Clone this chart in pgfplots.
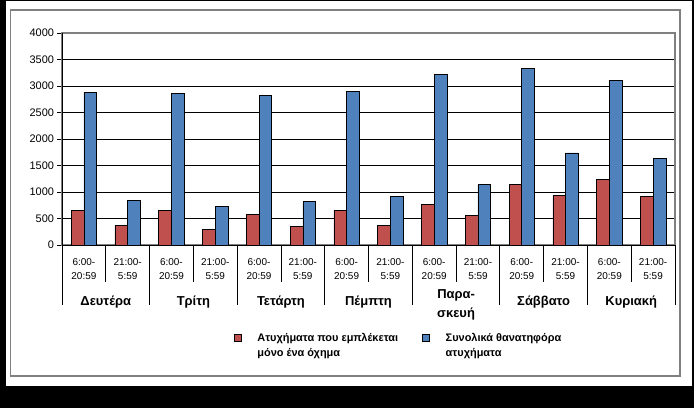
\documentclass[border=0pt]{standalone}
\usepackage{pgfplots}
\pgfplotsset{compat=1.18}
\usepackage{fontspec}
\setmainfont{Liberation Sans}
\definecolor{bred}{HTML}{C0504D}
\definecolor{bblue}{HTML}{4F81BD}
\definecolor{frm}{HTML}{808080}
\begin{document}
\begin{tikzpicture}
\useasboundingbox (0bp,0bp) rectangle (694bp,408bp);
\fill[black] (0bp,0bp) rectangle (694bp,408bp);
\fill[white] (6bp,22bp) rectangle (692bp,407bp);
\draw[frm, line width=1.5bp] (10.7bp,32bp) rectangle (680bp,398bp);
\begin{axis}[
  at={(62bp,163bp)}, anchor=south west,
  scale only axis, width=613bp, height=212bp,
  xmin=-0.5, xmax=13.5, ymin=0, ymax=4000,
  ybar=0pt, bar width=12.7bp,
  ytick={0,500,...,4000},
  ymajorgrids, grid style={black, line width=0.75bp},
  axis line style={draw=frm, line width=1.5bp},
  tick align=outside, major tick length=4.5bp,
  ytick pos=left, xtick pos=bottom,
  tick style={black, line width=0.75bp},
  xtick={0,...,13},
  xticklabels={{6:00-\\20:59},{21:00-\\5:59},{6:00-\\20:59},{21:00-\\5:59},{6:00-\\20:59},{21:00-\\5:59},{6:00-\\20:59},{21:00-\\5:59},{6:00-\\20:59},{21:00-\\5:59},{6:00-\\20:59},{21:00-\\5:59},{6:00-\\20:59},{21:00-\\5:59}},
  xtick style={draw=none},
  xticklabel style={align=center, font=\fontsize{10}{14}\selectfont, yshift=-5.5bp},
  yticklabel style={font=\fontsize{11}{12}\selectfont},
  /pgf/number format/assume math mode=true,
  /pgf/number format/1000 sep={},
  extra x ticks={0.5,2.5,4.5,6.5,8.5,10.5,12.5},
  extra x tick labels={Δευτέρα,Τρίτη,Τετάρτη,Πέμπτη,{\begin{tabular}[t]{@{}c@{}}\raisebox{7bp}{Παρα-}\\[-2bp]σκευή\end{tabular}},Σάββατο,Κυριακή},
  extra x tick style={tick style={draw=none}, xticklabel style={font=\bfseries\fontsize{13}{15}\selectfont, anchor=base, yshift=-50bp}},
  clip=false,
  legend columns=2,
  legend cell align=left,
  legend style={at={(0.275,-0.388)}, anchor=north west, draw=none, fill=none,
    font=\bfseries\fontsize{11}{15}\selectfont,
    /tikz/every odd column/.append style={column sep=14bp},
    /tikz/every even column/.append style={column sep=22bp}},
  legend image code/.code={\draw[#1, draw=black, line width=0.6bp] (0bp,-0.5bp) rectangle (7bp,6.5bp);},
]
\addplot[fill=bred, draw=black, line width=0.6bp] coordinates {
(0,647) (1,371) (2,660) (3,296) (4,579) (5,358) (6,660)
(7,371) (8,768) (9,560) (10,1138) (11,937) (12,1240) (13,918)};
\addplot[fill=bblue, draw=black, line width=0.6bp] coordinates {
(0,2874) (1,836) (2,2855) (3,730) (4,2824) (5,817) (6,2893)
(7,918) (8,3214) (9,1145) (10,3334) (11,1736) (12,3113) (13,1636)};
\addlegendentry{\begin{tabular}{@{}l@{}}Ατυχήματα που εμπλέκεται\\μόνο ένα όχημα\end{tabular}}
\addlegendentry{\begin{tabular}{@{}l@{}}Συνολικά θανατηφόρα\\ατυχήματα\end{tabular}}
\draw[black, line width=0.75bp] (rel axis cs:0,1) -- (rel axis cs:0,0) -- (rel axis cs:1,0);
\pgfplotsinvokeforeach{-0.5,1.5,3.5,5.5,7.5,9.5,11.5,13.5}{
  \draw[black, line width=0.75bp] (axis cs:#1,0) -- ++(0bp,-60bp);}
\pgfplotsinvokeforeach{0.5,2.5,4.5,6.5,8.5,10.5,12.5}{
  \draw[black, line width=0.75bp] (axis cs:#1,0) -- ++(0bp,-37bp);}
\end{axis}
\end{tikzpicture}
\end{document}
